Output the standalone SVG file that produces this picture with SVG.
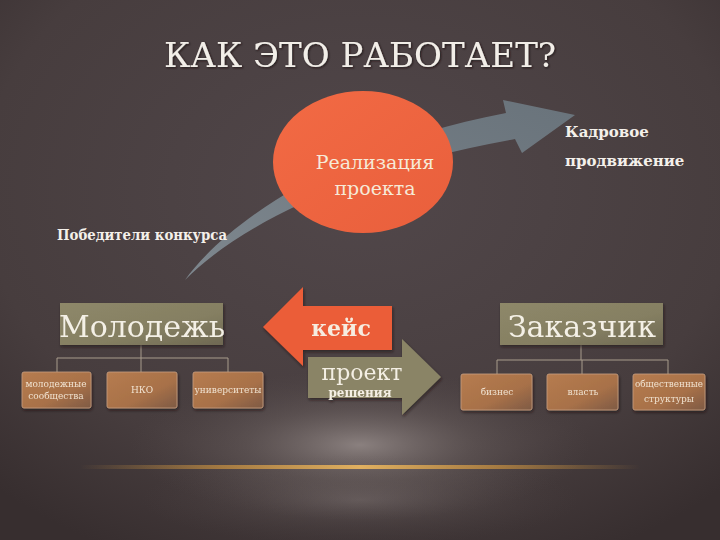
<svg xmlns="http://www.w3.org/2000/svg" width="720" height="540" viewBox="0 0 720 540">
<defs>
  <radialGradient id="bg" cx="0.5" cy="0.35" r="0.75">
    <stop offset="0" stop-color="#51474a"/>
    <stop offset="0.7" stop-color="#473d3e"/>
    <stop offset="1" stop-color="#372e2f"/>
  </radialGradient>
  <radialGradient id="spot" cx="0.5" cy="0.5" r="0.5">
    <stop offset="0" stop-color="#968c8a" stop-opacity="0.85"/>
    <stop offset="0.5" stop-color="#786e6c" stop-opacity="0.35"/>
    <stop offset="1" stop-color="#5a5050" stop-opacity="0"/>
  </radialGradient>
  <linearGradient id="glow" x1="0" y1="0" x2="1" y2="0">
    <stop offset="0" stop-color="#c89040" stop-opacity="0"/>
    <stop offset="0.25" stop-color="#c89040" stop-opacity="0.7"/>
    <stop offset="0.5" stop-color="#e0b060" stop-opacity="1"/>
    <stop offset="0.75" stop-color="#c89040" stop-opacity="0.7"/>
    <stop offset="1" stop-color="#c89040" stop-opacity="0"/>
  </linearGradient>
  <linearGradient id="oval" x1="0" y1="0" x2="1" y2="1">
    <stop offset="0" stop-color="#f26a44"/>
    <stop offset="1" stop-color="#e95f3c"/>
  </linearGradient>
  <linearGradient id="curve" x1="0" y1="1" x2="1" y2="0">
    <stop offset="0" stop-color="#7e878e"/>
    <stop offset="1" stop-color="#69737b"/>
  </linearGradient>
  <linearGradient id="khaki" x1="0" y1="0" x2="1" y2="1">
    <stop offset="0" stop-color="#8e8869"/>
    <stop offset="0.6" stop-color="#857f62"/>
    <stop offset="1" stop-color="#6e6852"/>
  </linearGradient>
  <linearGradient id="copper" x1="0" y1="0" x2="1" y2="1">
    <stop offset="0" stop-color="#b67c50"/>
    <stop offset="0.6" stop-color="#a87148"/>
    <stop offset="1" stop-color="#7e5a44"/>
  </linearGradient>
  <filter id="sh" x="-10%" y="-10%" width="130%" height="140%">
    <feDropShadow dx="1" dy="2" stdDeviation="1.5" flood-color="#1c1414" flood-opacity="0.6"/>
  </filter>
  <filter id="tsh" x="-5%" y="-20%" width="110%" height="150%">
    <feDropShadow dx="1" dy="1" stdDeviation="1" flood-color="#1a1010" flood-opacity="0.8"/>
  </filter>
</defs>
<style>
  text { font-family: "DejaVu Serif", serif; }
  .title { font-size: 34px; fill: #f2eee8; }
  .lbl { font-size: 15px; font-weight: bold; fill: #f4f0ea; }
  .oval-t { font-size: 19px; fill: #f6ead8; }
  .big { font-size: 30px; fill: #f4f0e6; }
  .small { font-size: 9px; fill: #f0e2d0; }
  .conn { stroke: #a89c8c; stroke-width: 1; fill: none; }
  .child { fill: url(#copper); stroke: #c8a080; stroke-width: 0.8; }
  .parent { fill: url(#khaki); }
</style>

<rect x="0" y="0" width="720" height="540" fill="url(#bg)"/>
<ellipse cx="360" cy="445" rx="230" ry="75" fill="url(#spot)"/>
<ellipse cx="360" cy="500" rx="220" ry="45" fill="url(#spot)" opacity="0.4"/>
<rect x="80" y="465" width="560" height="4" fill="url(#glow)"/>

<text class="title" x="360" y="67" text-anchor="middle" filter="url(#tsh)">КАК ЭТО РАБОТАЕТ?</text>

<g id="curved-arrow">
  <path d="M185,280 C222,228 330,146 506,113 L503,100 L575,115 L522,153 L515,139 C340,170 232,232 185,280 Z" fill="url(#curve)"/>
</g>

<g id="realizacia">
  <ellipse cx="363" cy="162" rx="90" ry="71" fill="url(#oval)"/>
  <text class="oval-t" x="375" y="169" text-anchor="middle">Реализация</text>
  <text class="oval-t" x="375" y="195" text-anchor="middle">проекта</text>
</g>

<g id="kadrovoe">
  <text class="lbl" x="565" y="137">Кадровое</text>
  <text class="lbl" x="565" y="166">продвижение</text>
</g>

<g id="pobediteli">
  <text class="lbl" x="57" y="240" textLength="170" lengthAdjust="spacingAndGlyphs">Победители конкурса</text>
</g>

<g id="connectors">
  <path class="conn" d="M141,345 V358 M57,358 H228 M57,358 V372 M141,358 V372 M228,358 V372"/>
  <path class="conn" d="M581,345 V360 M497,360 H668 M497,360 V374 M582,360 V374 M668,360 V374"/>
</g>

<g id="keis" filter="url(#sh)">
  <path d="M263,327 L303,287 L303,306 L392,306 L392,350 L303,350 L303,366 Z" fill="#eb5d37"/>
  <text x="341" y="336" text-anchor="middle" font-size="22" font-weight="bold" fill="#f6ece0">кейс</text>
</g>

<g id="proekt" filter="url(#sh)">
  <path d="M308,357 L402,357 L402,339 L441,377 L402,415 L402,398 L308,398 Z" fill="#8a8466"/>
  <text x="362" y="380" text-anchor="middle" font-size="22" fill="#f4efe4">проект</text>
  <text x="360" y="397" text-anchor="middle" font-size="12" font-weight="bold" fill="#f4efe4">решения</text>
</g>

<g id="molodezh" filter="url(#sh)">
  <rect class="parent" x="60" y="303" width="163" height="42"/>
  <text class="big" x="142" y="337" text-anchor="middle">Молодежь</text>
</g>
<g id="mol-soob" filter="url(#sh)">
  <rect class="child" x="22" y="372" width="69" height="36" rx="2"/>
  <text class="small" x="56" y="387" text-anchor="middle">молодежные</text>
  <text class="small" x="56" y="399" text-anchor="middle">сообщества</text>
</g>
<g id="nko" filter="url(#sh)">
  <rect class="child" x="107" y="372" width="70" height="36" rx="2"/>
  <text class="small" x="142" y="393" text-anchor="middle">НКО</text>
</g>
<g id="univ" filter="url(#sh)">
  <rect class="child" x="193" y="372" width="70" height="36" rx="2"/>
  <text class="small" x="228" y="393" text-anchor="middle">университеты</text>
</g>

<g id="zakazchik" filter="url(#sh)">
  <rect class="parent" x="500" y="303" width="163" height="42"/>
  <text class="big" x="582" y="337" text-anchor="middle">Заказчик</text>
</g>
<g id="biznes" filter="url(#sh)">
  <rect class="child" x="461" y="374" width="71" height="36" rx="2"/>
  <text class="small" x="497" y="395" text-anchor="middle">бизнес</text>
</g>
<g id="vlast" filter="url(#sh)">
  <rect class="child" x="547" y="374" width="71" height="36" rx="2"/>
  <text class="small" x="583" y="395" text-anchor="middle">власть</text>
</g>
<g id="obsch" filter="url(#sh)">
  <rect class="child" x="633" y="374" width="72" height="36" rx="2"/>
  <text class="small" x="669" y="387" text-anchor="middle" textLength="68" lengthAdjust="spacingAndGlyphs">общественные</text>
  <text class="small" x="669" y="402" text-anchor="middle">структуры</text>
</g>
</svg>
